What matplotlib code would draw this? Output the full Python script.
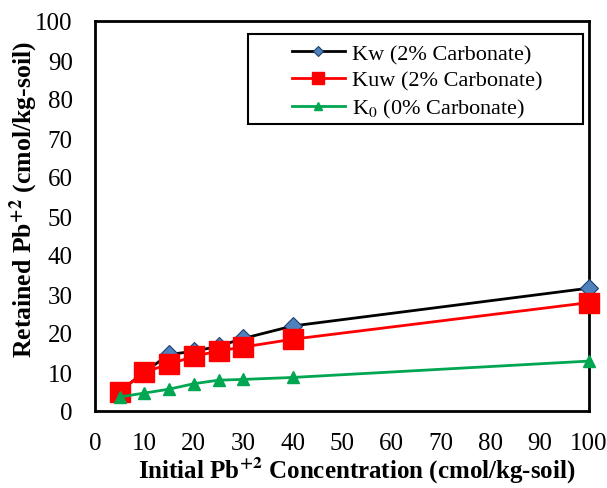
import matplotlib.pyplot as plt
from matplotlib.patches import Rectangle

# initial Pb concentration (cmol/kg-soil)
conc = [5, 10, 15, 20, 25, 30, 40, 100]
# retained Pb for each soil
kw = [5.0, 10.0, 14.5, 15.3, 16.6, 18.6, 21.8, 31.5]
kuw = [5.0, 10.0, 12.0, 14.0, 15.4, 16.4, 18.4, 27.8]
k0 = [3.6, 4.6, 5.6, 7.0, 7.9, 8.1, 8.6, 12.8]

plt.rcParams['font.family'] = ['Liberation Serif', 'DejaVu Serif']
plt.rcParams['mathtext.fontset'] = 'stix'

fig = plt.figure(figsize=(6.07, 4.89), dpi=100)
ax = fig.add_axes([95/607, 77/489, 494/607, 390/489])

ax.plot(conc, kw, color='black', lw=2, marker='D', ms=9,
        markerfacecolor='#4f81bd', markeredgecolor='#1f3f6f', markeredgewidth=0.8,
        label='Kw (2% Carbonate)', clip_on=False, zorder=3)
ax.plot(conc, kuw, color='#ff0000', lw=2, marker='s', ms=14,
        markerfacecolor='#ff0000', markeredgecolor='#ff0000',
        label='Kuw (2% Carbonate)', clip_on=False, zorder=4)
ax.plot(conc, k0, color='#00a651', lw=2, marker='^', ms=9,
        markerfacecolor='#00a651', markeredgecolor='#00a651',
        label='K$_0$ (0% Carbonate)', clip_on=False, zorder=5)

ax.set_xlim(0, 100)
ax.set_ylim(0, 100)
ax.set_xticks(range(0, 101, 10))
ax.set_yticks(range(0, 101, 10))
ax.tick_params(length=0, labelsize=18)
ax.tick_params(axis='x', pad=15)
ax.tick_params(axis='y', pad=16)
for s in ax.spines.values():
    s.set_linewidth(2)

ax.set_xlabel(r'Initial Pb$\mathbf{^{+2}}$ Concentration (cmol/kg-soil)',
              fontsize=18, fontweight='bold')
ax.set_ylabel(r'Retained Pb$\mathbf{^{+2}}$ (cmol/kg-soil)',
              fontsize=18.5, fontweight='bold')
ax.xaxis.set_label_coords(0.53, -0.113)
ax.yaxis.set_label_coords(-0.111, 0.544)

# legend box drawn separately so its padding can be set freely
ax.add_patch(Rectangle((0.310, 0.736), 0.678, 0.231, transform=ax.transAxes,
                       fill=True, facecolor='white', edgecolor='black',
                       lw=1.5, zorder=6))
leg = ax.legend(loc='upper left', bbox_to_anchor=(0.398, 0.942), fontsize=16,
                frameon=False, borderpad=0, borderaxespad=0,
                labelspacing=0.28, handlelength=2.4,
                handletextpad=0.3, markerscale=0.6)
leg.set_zorder(7)

fig.savefig('out.png', dpi=100)
